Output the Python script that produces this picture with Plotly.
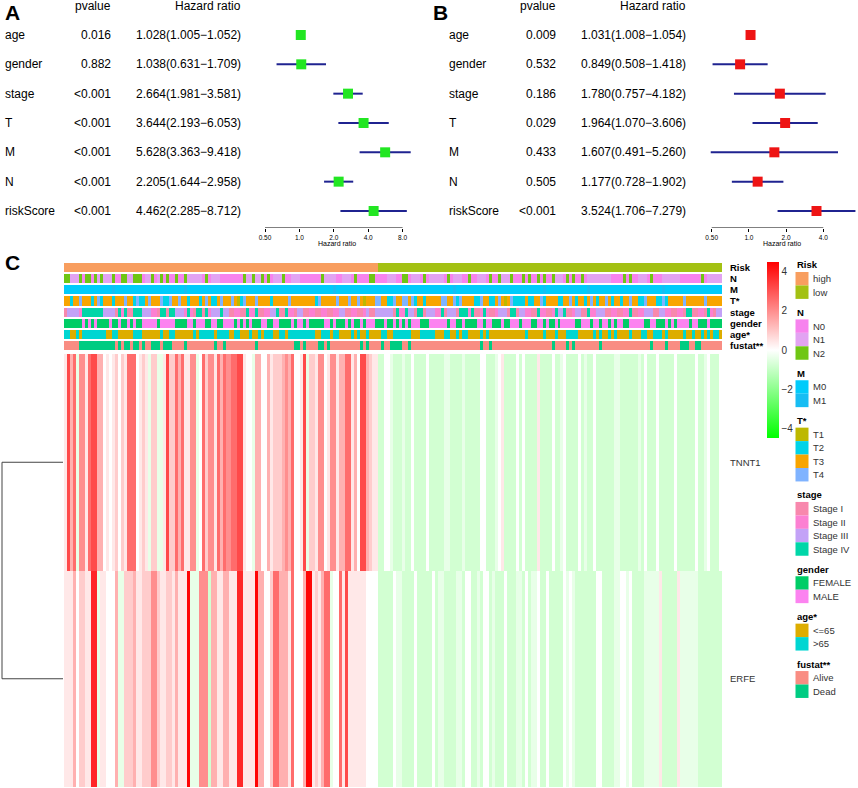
import math
import plotly.graph_objects as go

# figure size in pixels, everything is placed with margins of 0
W, H = 858, 788
FONT = "Liberation Sans, Arial, sans-serif"

# ---------------- forest plot data (A: uni-, B: multivariate cox) ----------------
VARS = ["age", "gender", "stage", "T", "M", "N", "riskScore"]
A_PVAL = ["0.016", "0.882", "<0.001", "<0.001", "<0.001", "<0.001", "<0.001"]
A_HR = [1.028, 1.038, 2.664, 3.644, 5.628, 2.205, 4.462]
A_LOW = [1.005, 0.631, 1.981, 2.193, 3.363, 1.644, 2.285]
A_HIGH = [1.052, 1.709, 3.581, 6.053, 9.418, 2.958, 8.712]
B_PVAL = ["0.009", "0.532", "0.186", "0.029", "0.433", "0.505", "<0.001"]
B_HR = [1.031, 0.849, 1.780, 1.964, 1.607, 1.177, 3.524]
B_LOW = [1.008, 0.508, 0.757, 1.070, 0.491, 0.728, 1.706]
B_HIGH = [1.054, 1.418, 4.182, 3.606, 5.260, 1.902, 7.279]
A_TICKS = [0.5, 1, 2, 4, 8]
A_TICKTEXT = ["0.50", "1.0", "2.0", "4.0", "8.0"]
B_TICKS = [0.5, 1, 2, 4]
B_TICKTEXT = ["0.50", "1.0", "2.0", "4.0"]

# ---------------- heatmap data (samples sorted by risk) ----------------
N_HIGH, N_LOW = 105, 115
GENES = ["TNNT1", "ERFE"]
# expression level codes, one char per sample
HEAT_LEVELS = {"G": -0.8, "g": -0.4, "0": 0.0, "1": 0.4, "2": 0.9, "3": 1.4,
               "4": 2.0, "5": 2.6, "6": 3.2, "7": 3.8, "8": 4.4}
TNNT1 = ["1635g44156", "6330101202", "15550121g2", "2gg1622535", "1144g05244",
         "1535445566", "100g330031", "2223435001", "6g22144014", "4133551306",
         "63211GG00g", "GGGgGG0GGG", "G0GGGGGggG", "GGGgGGGGG0", "0GGGg01GGG",
         "G0G0GGGG1G", "GGG0GGg0GG", "GG0GgGG0GG", "GGGGggGGGG", "GGgG0GGG0G",
         "GGGG0GGGGG", "G0GGg0GGG0"]
ERFE = ["1113022117", "7g110003gg", "2223112224", "4211221311", "18ggg444G3",
        "3113311177", "1111833002", "5533315000", "388121355g", "0051611111",
        "10000GGGGG", "0ggGGGG0GG", "GGG0GggGGG", "GggG00GGgG", "00GgGGG0GG",
        "GggG0Ggg0G", "G0GGGGG0g0", "gGGGGGGG00", "GGGGgg00g0", "GGGGggggg1",
        "GGGGG1gggg", "ggGGGGGGGG"]

# clinical annotation tracks, one char per sample
N_TRACK = ["2211120220", "2121112002", "2112220112", "0120200200", "2111110201",
           "1100000000", "2112112020", "1112001110", "0000002111", "1001110200",
           "0022000011", "1002201110", "2011111020", "1110020011", "1020021112",
           "0002020020", "2002111020", "2002011111", "1110000202", "0011102000",
           "1111110000", "0002011111"]
M_TRACK = ["0000000000", "0000001000", "0000000000", "0000000000", "1000000000",
           "0000000000", "0000000000", "0000000000", "0000000000", "1000000000",
           "0000000000", "0000000000", "0000000000", "1000000000", "0000000000",
           "0000000000", "1000000000", "0000010000", "0000000000", "0000000000",
           "1000000000", "0000000000"]
T_TRACK = ["3323343332", "3423332333", "4332422343", "3342243343", "3233323432",
           "2343334312", "4333433332", "3333343333", "3333243333", "3433343343",
           "1333443322", "4334434233", "2333334433", "4243333224", "3322343134",
           "2222322334", "2333322334", "3233234323", "3432332334", "3322433322",
           "4233333433", "3333433333"]
STAGE_TRACK = ["1333324444", "4443333142", "4114443332", "2144144333", "2421441423",
               "3343311221", "1422411223", "3411422133", "1122112211", "2233112211",
               "2311333333", "1422433144", "1333224133", "3144424112", "4211233314",
               "4133221142", "2112433411", "2331142233", "3112211224", "1122333113",
               "3221122144", "1122142133"]
GENDER_TRACK = ["FFFFFFMFMF", "MFFFFMFFMF", "FMFMFFMMMM", "MFMMMMMFFF", "FMMFMMMFFM",
                "MFFMMMMFMF", "MFMFFFMMFF", "MMFFFFMFMM", "FMFFFFFMMF", "MFFFMFMFFM",
                "FMMMFFFMFF", "MFMFMFMMMF", "FFMMMMMMFM", "MFFMFFFFMM", "FMMFFFMFFM",
                "MMFMMMFFMM", "FMFFMFMMMM", "MFFMMMFMMF", "MMFMFMMFFM", "MMMMFFMMFF",
                "FMFMFMMMMF", "MMFFFMFFFF"]
AGE_TRACK = ["OOYYOYOOOO", "OOOOYYOOYY", "YYYOOOYYYY", "YYOYYOOYYY", "YYYOYOOOOO",
             "YOOOOYYOOY", "YYOYYOYOOO", "YYOOYOOOOO", "OOOOYYOOOY", "OOYYYYOYOY",
             "YOYYYYOOYY", "OOOOOOYYYO", "OOOOYYYOOY", "YOYOOYYYYO", "YOYYYYYYYY",
             "YYYYOYYYYY", "OYYYOYYYOO", "OOYYYYYOYO", "YYOYOYYYYO", "YYYOOYYOOO",
             "YOYYYYYOYY", "OYYOYOYOOY"]
FUSTAT_TRACK = ["AAAAADDDDD", "DDDDDDDADA", "DDADDADAAD", "DDADDDAAAA", "DAAAAAAAAA",
                "DAADAAAAAA", "AAAADAAAAA", "AAAAAAADDA", "DAAAADDADA", "AAAAAAAAAD",
                "ADAAAADAAD", "DDDAADAAAA", "AAAAAAAAAA", "AAAAAAAAAD", "AADAAAAAAA",
                "AAAAAAAAAA", "AAADAAAADA", "DAAAAAAAAD", "AAAAAAAAAA", "AAAAAADAAA",
                "ADAAAADDDA", "ADDAAAAAAA"]
RISK_TRACK = "H" * N_HIGH + "L" * N_LOW

# (label, legend levels, codes, colours, samples)
TRACKS = [
    ("Risk", ["high", "low"], "HL", ["#F89E5F", "#A3C113"], RISK_TRACK),
    ("N", ["N0", "N1", "N2"], "012", ["#F783EE", "#E2A3F2", "#6FC614"], "".join(N_TRACK)),
    ("M", ["M0", "M1"], "01", ["#00CBFB", "#17BDF3"], "".join(M_TRACK)),
    ("T*", ["T1", "T2", "T3", "T4"], "1234", ["#BDB800", "#00D3E8", "#F8A500", "#7FB3FF"],
     "".join(T_TRACK)),
    ("stage", ["Stage I", "Stage II", "Stage III", "Stage IV"], "1234",
     ["#F888AD", "#FC80D2", "#C3A2F7", "#00D6A8"], "".join(STAGE_TRACK)),
    ("gender", ["FEMALE", "MALE"], "FM", ["#00CD66", "#FC83F0"], "".join(GENDER_TRACK)),
    ("age*", ["&lt;=65", "&gt;65"], "YO", ["#DDAD00", "#00D6D2"], "".join(AGE_TRACK)),
    ("fustat**", ["Alive", "Dead"], "AD", ["#F98D83", "#00CC82"], "".join(FUSTAT_TRACK)),
]


def px(x):
    return x / W


def py(y):
    return 1 - y / H


def log_range(dom, px_half, ppd):
    # pixel position of 0.5 and pixels per doubling -> log10 axis range
    return [math.log10(0.5) + (d - px_half) / ppd * math.log10(2) for d in dom]


fig = go.Figure()
annotations = []
shapes = []

# ---------------- forest plots ----------------
ROW0, PITCH, YTOP, YBOT = 35.0, 29.33, 20.0, 228.0
yrange = [(YBOT - ROW0) / PITCH, (YTOP - ROW0) / PITCH]
rows = list(range(len(VARS)))

panels = [
    # axis, hr, lo, hi, pvals, colour, ticks, ticktext, domain px, px of 0.5, px/doubling, text x
    ("", A_HR, A_LOW, A_HIGH, A_PVAL, "#22E622", A_TICKS, A_TICKTEXT, [255, 420], 265.0, 34.4,
     (3, 113, 243, 337)),
    ("2", B_HR, B_LOW, B_HIGH, B_PVAL, "#EE1414", B_TICKS, B_TICKTEXT, [700, 858], 711.7, 37.2,
     (447, 558, 688, 782)),
]
for ax, hr, lo, hi, pv, col, ticks, ticktext, dom, phalf, ppd, tx in panels:
    xs, ys = [], []
    for i in rows:
        xs += [lo[i], hi[i], None]
        ys += [i, i, None]
    fig.add_trace(go.Scatter(x=xs, y=ys, mode="lines", line=dict(color="#1F2390", width=2),
                             xaxis="x" + ax, yaxis="y" + ax, hoverinfo="skip", showlegend=False))
    fig.add_trace(go.Scatter(x=hr, y=rows, mode="markers",
                             marker=dict(symbol="square", size=10, color=col, line_width=0),
                             xaxis="x" + ax, yaxis="y" + ax, showlegend=False))
    # axis line only spans the tick range, like base R
    fig.add_trace(go.Scatter(x=[ticks[0], ticks[-1]], y=[yrange[0]] * 2, mode="lines",
                             line=dict(color="black", width=1), cliponaxis=False,
                             xaxis="x" + ax, yaxis="y" + ax, hoverinfo="skip", showlegend=False))
    fig.update_layout(**{
        "xaxis" + ax: dict(type="log", domain=[px(dom[0]), px(dom[1])],
                           range=log_range(dom, phalf, ppd), anchor="y" + ax,
                           tickvals=ticks, ticktext=ticktext, ticks="outside", ticklen=3,
                           tickcolor="black", showline=False, showgrid=False, zeroline=False,
                           tickfont=dict(size=6.5, color="black", family=FONT)),
        "yaxis" + ax: dict(domain=[py(YBOT), py(YTOP)], range=yrange, anchor="x" + ax,
                           visible=False),
    })
    yref = "y" + ax
    lab_x, p_x, hr_x, title_x = tx
    # column headers sit one row above the first variable
    head_y = py(ROW0 - PITCH)
    annotations.append(dict(text="pvalue", x=px(p_x), y=head_y, xref="paper", yref="paper",
                            xanchor="right", yanchor="middle", showarrow=False))
    annotations.append(dict(text="Hazard ratio", x=px(hr_x), y=head_y, xref="paper",
                            yref="paper", xanchor="right", yanchor="middle", showarrow=False))
    for i in rows:
        annotations.append(dict(text=VARS[i], x=px(lab_x), y=i, xref="paper", yref=yref,
                                xanchor="left", yanchor="middle", showarrow=False))
        annotations.append(dict(text=pv[i].replace("<", "&lt;"), x=px(p_x), y=i, xref="paper",
                                yref=yref, xanchor="right", yanchor="middle", showarrow=False))
        annotations.append(dict(text=f"{hr[i]:.3f}({lo[i]:.3f}\u2212{hi[i]:.3f})", x=px(hr_x),
                                y=i, xref="paper", yref=yref, xanchor="right",
                                yanchor="middle", showarrow=False))
    annotations.append(dict(text="Hazard ratio", x=px(title_x), y=py(244), xref="paper",
                            yref="paper", xanchor="center", yanchor="middle", showarrow=False,
                            font=dict(size=7, color="black", family=FONT)))

for letter, lx, ly in [("A", 3, 13), ("B", 431, 13), ("C", 3, 262)]:
    annotations.append(dict(text=f"<b>{letter}</b>", x=px(lx), y=py(ly), xref="paper",
                            yref="paper", xanchor="left", yanchor="middle", showarrow=False,
                            font=dict(size=21, color="black", family=FONT)))

# ---------------- annotation tracks ----------------
HX0, HX1 = 64, 722
n_samples = N_HIGH + N_LOW
samples = list(range(n_samples))
colorscale, zrows = [], []
offset = 0
n_cat = sum(len(t[1]) for t in TRACKS)
for name, levels, codes, colors, track in TRACKS:
    zrows.append([offset + codes.index(c) for c in track])
    for k, c in enumerate(colors):
        colorscale += [[(offset + k) / n_cat, c], [(offset + k + 1) / n_cat, c]]
    offset += len(levels)

fig.add_trace(go.Heatmap(z=zrows, x=samples, y=list(range(len(TRACKS))), colorscale=colorscale,
                         zmin=-0.5, zmax=n_cat - 0.5, showscale=False, ygap=2,
                         xaxis="x3", yaxis="y3", hoverinfo="skip"))
fig.update_layout(
    xaxis3=dict(domain=[px(HX0), px(HX1)], range=[-0.5, n_samples - 0.5], anchor="y3",
                visible=False),
    yaxis3=dict(domain=[py(351), py(262)], range=[len(TRACKS) - 0.5, -0.5], anchor="x3",
                visible=False),
)
for i, t in enumerate(TRACKS):
    annotations.append(dict(text=f"<b>{t[0]}</b>", x=px(728), y=i, xref="paper", yref="y3",
                            xanchor="left", yanchor="middle", showarrow=False,
                            font=dict(size=9.5, color="black", family=FONT)))

# ---------------- expression heatmap ----------------
zheat = [[HEAT_LEVELS[c] for c in "".join(g)] for g in (TNNT1, ERFE)]
fig.add_trace(go.Heatmap(
    z=zheat, x=samples, y=[0, 1], zmin=-4.5, zmax=4.5,
    colorscale=[[0, "#00FF00"], [0.5, "#FFFFFF"], [1, "#FF0000"]],
    xaxis="x4", yaxis="y4", hoverinfo="skip",
    colorbar=dict(thickness=12, thicknessmode="pixels", len=176, lenmode="pixels",
                  x=px(766.5), xanchor="left", y=py(262), yanchor="top", xpad=0, ypad=0,
                  tickvals=[-4, -2, 0, 2, 4], ticks="", outlinewidth=0,
                  tickfont=dict(size=10, color="#333333", family=FONT)),
))
fig.update_layout(
    xaxis4=dict(domain=[px(HX0), px(HX1)], range=[-0.5, n_samples - 0.5], anchor="y4",
                visible=False),
    yaxis4=dict(domain=[py(787), py(354)], range=[1.5, -0.5], anchor="x4", visible=False),
)
for i, g in enumerate(GENES):
    annotations.append(dict(text=g, x=px(728), y=i, xref="paper", yref="y4", xanchor="left",
                            yanchor="middle", showarrow=False,
                            font=dict(size=9.5, color="#333333", family=FONT)))

# row dendrogram
for i in range(len(GENES)):
    shapes.append(dict(type="line", xref="paper", yref="y4", x0=px(2), x1=px(63), y0=i, y1=i,
                       line=dict(color="#444444", width=1)))
shapes.append(dict(type="line", xref="paper", yref="y4", x0=px(2), x1=px(2), y0=0,
                   y1=len(GENES) - 1, line=dict(color="#444444", width=1)))

# ---------------- annotation legend ----------------
SW = 13.45
y = 265.0
for name, levels, codes, colors, track in TRACKS:
    annotations.append(dict(text=f"<b>{name}</b>", x=px(795), y=py(y), xref="paper",
                            yref="paper", xanchor="left", yanchor="middle", showarrow=False,
                            font=dict(size=9.5, color="black", family=FONT)))
    y0 = y + 7
    for lev, col in zip(levels, colors):
        shapes.append(dict(type="rect", xref="paper", yref="paper", x0=px(795.5),
                           x1=px(808.5), y0=py(y0), y1=py(y0 + SW), fillcolor=col,
                           line_width=0))
        annotations.append(dict(text=lev, x=px(811), y=py(y0 + SW / 2), xref="paper",
                                yref="paper", xanchor="left", yanchor="middle",
                                showarrow=False,
                                font=dict(size=9.5, color="#333333", family=FONT)))
        y0 += SW
    y = y0 + 13.5

fig.update_layout(
    width=W, height=H, margin=dict(l=0, r=0, t=0, b=0),
    paper_bgcolor="white", plot_bgcolor="white",
    font=dict(family=FONT, size=12, color="black"),
    annotations=annotations, shapes=shapes, showlegend=False,
)

# the page body has a default 8px margin; drop it so the figure fills the window
fig.write_html("out.html", config={"displayModeBar": False},
               post_script="document.body.style.margin='0px';")
